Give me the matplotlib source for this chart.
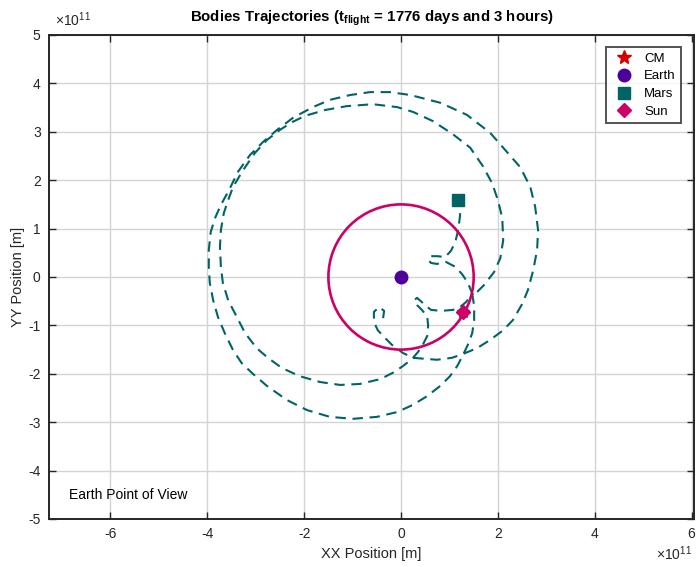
import matplotlib
matplotlib.use('Agg')
import matplotlib.pyplot as plt
from matplotlib.patches import Circle
from matplotlib.lines import Line2D

plt.rcParams['font.family'] = ['Liberation Sans', 'DejaVu Sans']
plt.rcParams['mathtext.fontset'] = 'custom'
plt.rcParams['mathtext.rm'] = 'Liberation Sans'
plt.rcParams['mathtext.bf'] = 'Liberation Sans:bold'

# all positions in units of 1e11 m, Earth at the origin
mars_x = [-0.37, -0.35, -0.45, -0.56, -0.56, -0.48, -0.33, -0.19, 0.04, 0.25,
          0.50, 0.74, 1.05, 1.28,
          1.57, 1.84, 2.11, 2.31, 2.50, 2.62, 2.73, 2.81, 2.83, 2.77, 2.67, 2.46,
          2.19, 1.84, 1.36, 0.81, 0.19, -0.23, -0.64, -1.05, -1.47, -1.82, -2.23,
          -2.56, -2.85, -3.12, -3.37, -3.55, -3.72, -3.84, -3.93, -3.97, -3.97,
          -3.95, -3.88, -3.78, -3.64, -3.47, -3.29, -3.06, -2.77, -2.36, -1.94,
          -1.47, -0.99, -0.50, -0.08, 0.25, 0.54, 0.81, 1.01, 1.16, 1.28, 1.38,
          1.47, 1.51, 1.51, 1.47,
          1.34, 1.22, 1.07, 0.83, 0.62, 0.52, 0.41, 0.33, 0.27, 0.33, 0.43, 0.54,
          0.56, 0.54, 0.45, 0.35, 0.23,
          0.04, -0.17, -0.43, -0.85, -1.26, -1.67, -2.09, -2.46, -2.75, -2.98,
          -3.22, -3.39, -3.57, -3.68, -3.72, -3.74, -3.72, -3.66, -3.57, -3.47,
          -3.26, -3.02, -2.77, -2.50, -2.25, -1.98, -1.57, -1.12, -0.58, -0.08,
          0.25, 0.66, 1.07, 1.43, 1.69, 1.88, 2.00, 2.09, 2.11, 2.05, 1.92, 1.71,
          1.49,
          1.38, 1.26, 1.12, 0.93, 0.74, 0.62, 0.56, 0.62, 0.76, 0.91, 1.03, 1.12,
          1.18, 1.22, 1.20, 1.18]
mars_y = [-0.85, -0.70, -0.62, -0.72, -0.93, -1.10, -1.26, -1.40, -1.57, -1.67,
          -1.69, -1.71, -1.67, -1.59,
          -1.47, -1.30, -1.10, -0.89, -0.56, -0.27, 0.14, 0.56, 0.97, 1.45, 1.86,
          2.27, 2.58, 2.98, 3.35, 3.60, 3.76, 3.82, 3.82, 3.76, 3.66, 3.51, 3.29,
          3.04, 2.79, 2.52, 2.17, 1.80, 1.49, 1.22, 0.93, 0.56, 0.21, -0.12,
          -0.48, -0.83, -1.16, -1.51, -1.78, -2.00, -2.25, -2.54, -2.75, -2.89,
          -2.93, -2.89, -2.79, -2.64, -2.46, -2.25, -2.05, -1.84, -1.61, -1.40,
          -1.16, -0.89, -0.60, -0.35,
          -0.52, -0.62, -0.68, -0.70, -0.68, -0.60, -0.50, -0.43, -0.48, -0.58,
          -0.68, -0.81, -1.01, -1.22, -1.40, -1.55, -1.69,
          -1.84, -1.98, -2.11, -2.21, -2.23, -2.17, -2.05, -1.88, -1.67, -1.47,
          -1.16, -0.83, -0.48, -0.12, 0.21, 0.62, 0.97, 1.32, 1.59, 1.86, 2.21,
          2.56, 2.83, 3.04, 3.20, 3.33, 3.45, 3.53, 3.57, 3.51, 3.41, 3.22, 2.95,
          2.67, 2.29, 1.94, 1.59, 1.22, 0.76, 0.39, 0.10, -0.17, -0.39,
          -0.12, 0.06, 0.21, 0.31, 0.27, 0.29, 0.35, 0.43, 0.43, 0.41, 0.54, 0.72,
          0.97, 1.28, 1.51, 1.59]

sun_orbit_radius = 1.5
earth_pos = (0.0, 0.0)
mars_pos = (1.17, 1.60)
sun_pos = (1.27, -0.73)
cm_pos = (1.27, -0.73)

x_ticks = [-6, -4, -2, 0, 2, 4, 6]
y_ticks = [-5, -4, -3, -2, -1, 0, 1, 2, 3, 4, 5]

mars_col = '#006464'
sun_col = '#cc0066'
earth_col = '#4c0099'
cm_col = '#d40000'

fig = plt.figure(figsize=(6.97, 5.67), dpi=100)
ax = fig.add_axes([49/697, 48/567, 645/697, 484/567])

ax.plot(mars_x, mars_y, color=mars_col, lw=1.5, ls=(0, (5, 3.2)), zorder=2)
ax.add_patch(Circle(earth_pos, sun_orbit_radius, fill=False, ec=sun_col, lw=1.9, zorder=3))

ax.plot(*cm_pos, marker='*', color=cm_col, ms=9, ls='none', zorder=4)
ax.plot(*earth_pos, marker='o', color=earth_col, ms=9, ls='none', zorder=5)
ax.plot(*mars_pos, marker='s', color=mars_col, ms=8, ls='none', zorder=5)
ax.plot(*sun_pos, marker='D', color=sun_col, ms=7, ls='none', zorder=5)

ax.set_xlim(-7.27, 6.05)
ax.set_ylim(-5, 5)
ax.set_xticks(x_ticks)
ax.set_yticks(y_ticks)
ax.set_xticklabels([str(v) for v in x_ticks])
ax.set_yticklabels([str(v) for v in y_ticks])
ax.tick_params(direction='in', length=5, width=1, top=True, right=True,
               labelsize=10, colors='#262626', pad=6)
ax.grid(True, color='#d4d4d4', lw=1.0)
ax.set_axisbelow(True)
for s in ax.spines.values():
    s.set_linewidth(1.4)
    s.set_color('#262626')

ax.set_xlabel('XX Position [m]', fontsize=10.5, color='#262626', labelpad=4)
ax.set_ylabel('YY Position [m]', fontsize=10.5, color='#262626', labelpad=2)
ax.set_title(r'Bodies Trajectories (t$_{\mathbf{flight}}$ = 1776 days and 3 hours)',
             fontsize=10.8, fontweight='bold', pad=10)

fig.text(55/697, 1 - 20/567, r'$\times10^{11}$', fontsize=10, color='#262626', va='center')
fig.text(656/697, 1 - 554/567, r'$\times10^{11}$', fontsize=10, color='#262626', va='center')

ax.text(-6.85, -4.5, 'Earth Point of View', fontsize=10, va='center', ha='left')

handles = [Line2D([], [], marker='*', color=cm_col, ls='none', ms=10),
           Line2D([], [], marker='o', color=earth_col, ls='none', ms=9),
           Line2D([], [], marker='s', color=mars_col, ls='none', ms=8),
           Line2D([], [], marker='D', color=sun_col, ls='none', ms=7)]
leg = ax.legend(handles, ['CM', 'Earth', 'Mars', 'Sun'], loc='upper right',
                bbox_to_anchor=(0.98, 0.975), borderaxespad=0, fontsize=9.5,
                frameon=True, fancybox=False, edgecolor='#262626',
                handletextpad=0.5, handlelength=2.0, labelspacing=0.42,
                borderpad=0.4)
leg.get_frame().set_linewidth(1.4)

fig.savefig('out.png', dpi=100)
